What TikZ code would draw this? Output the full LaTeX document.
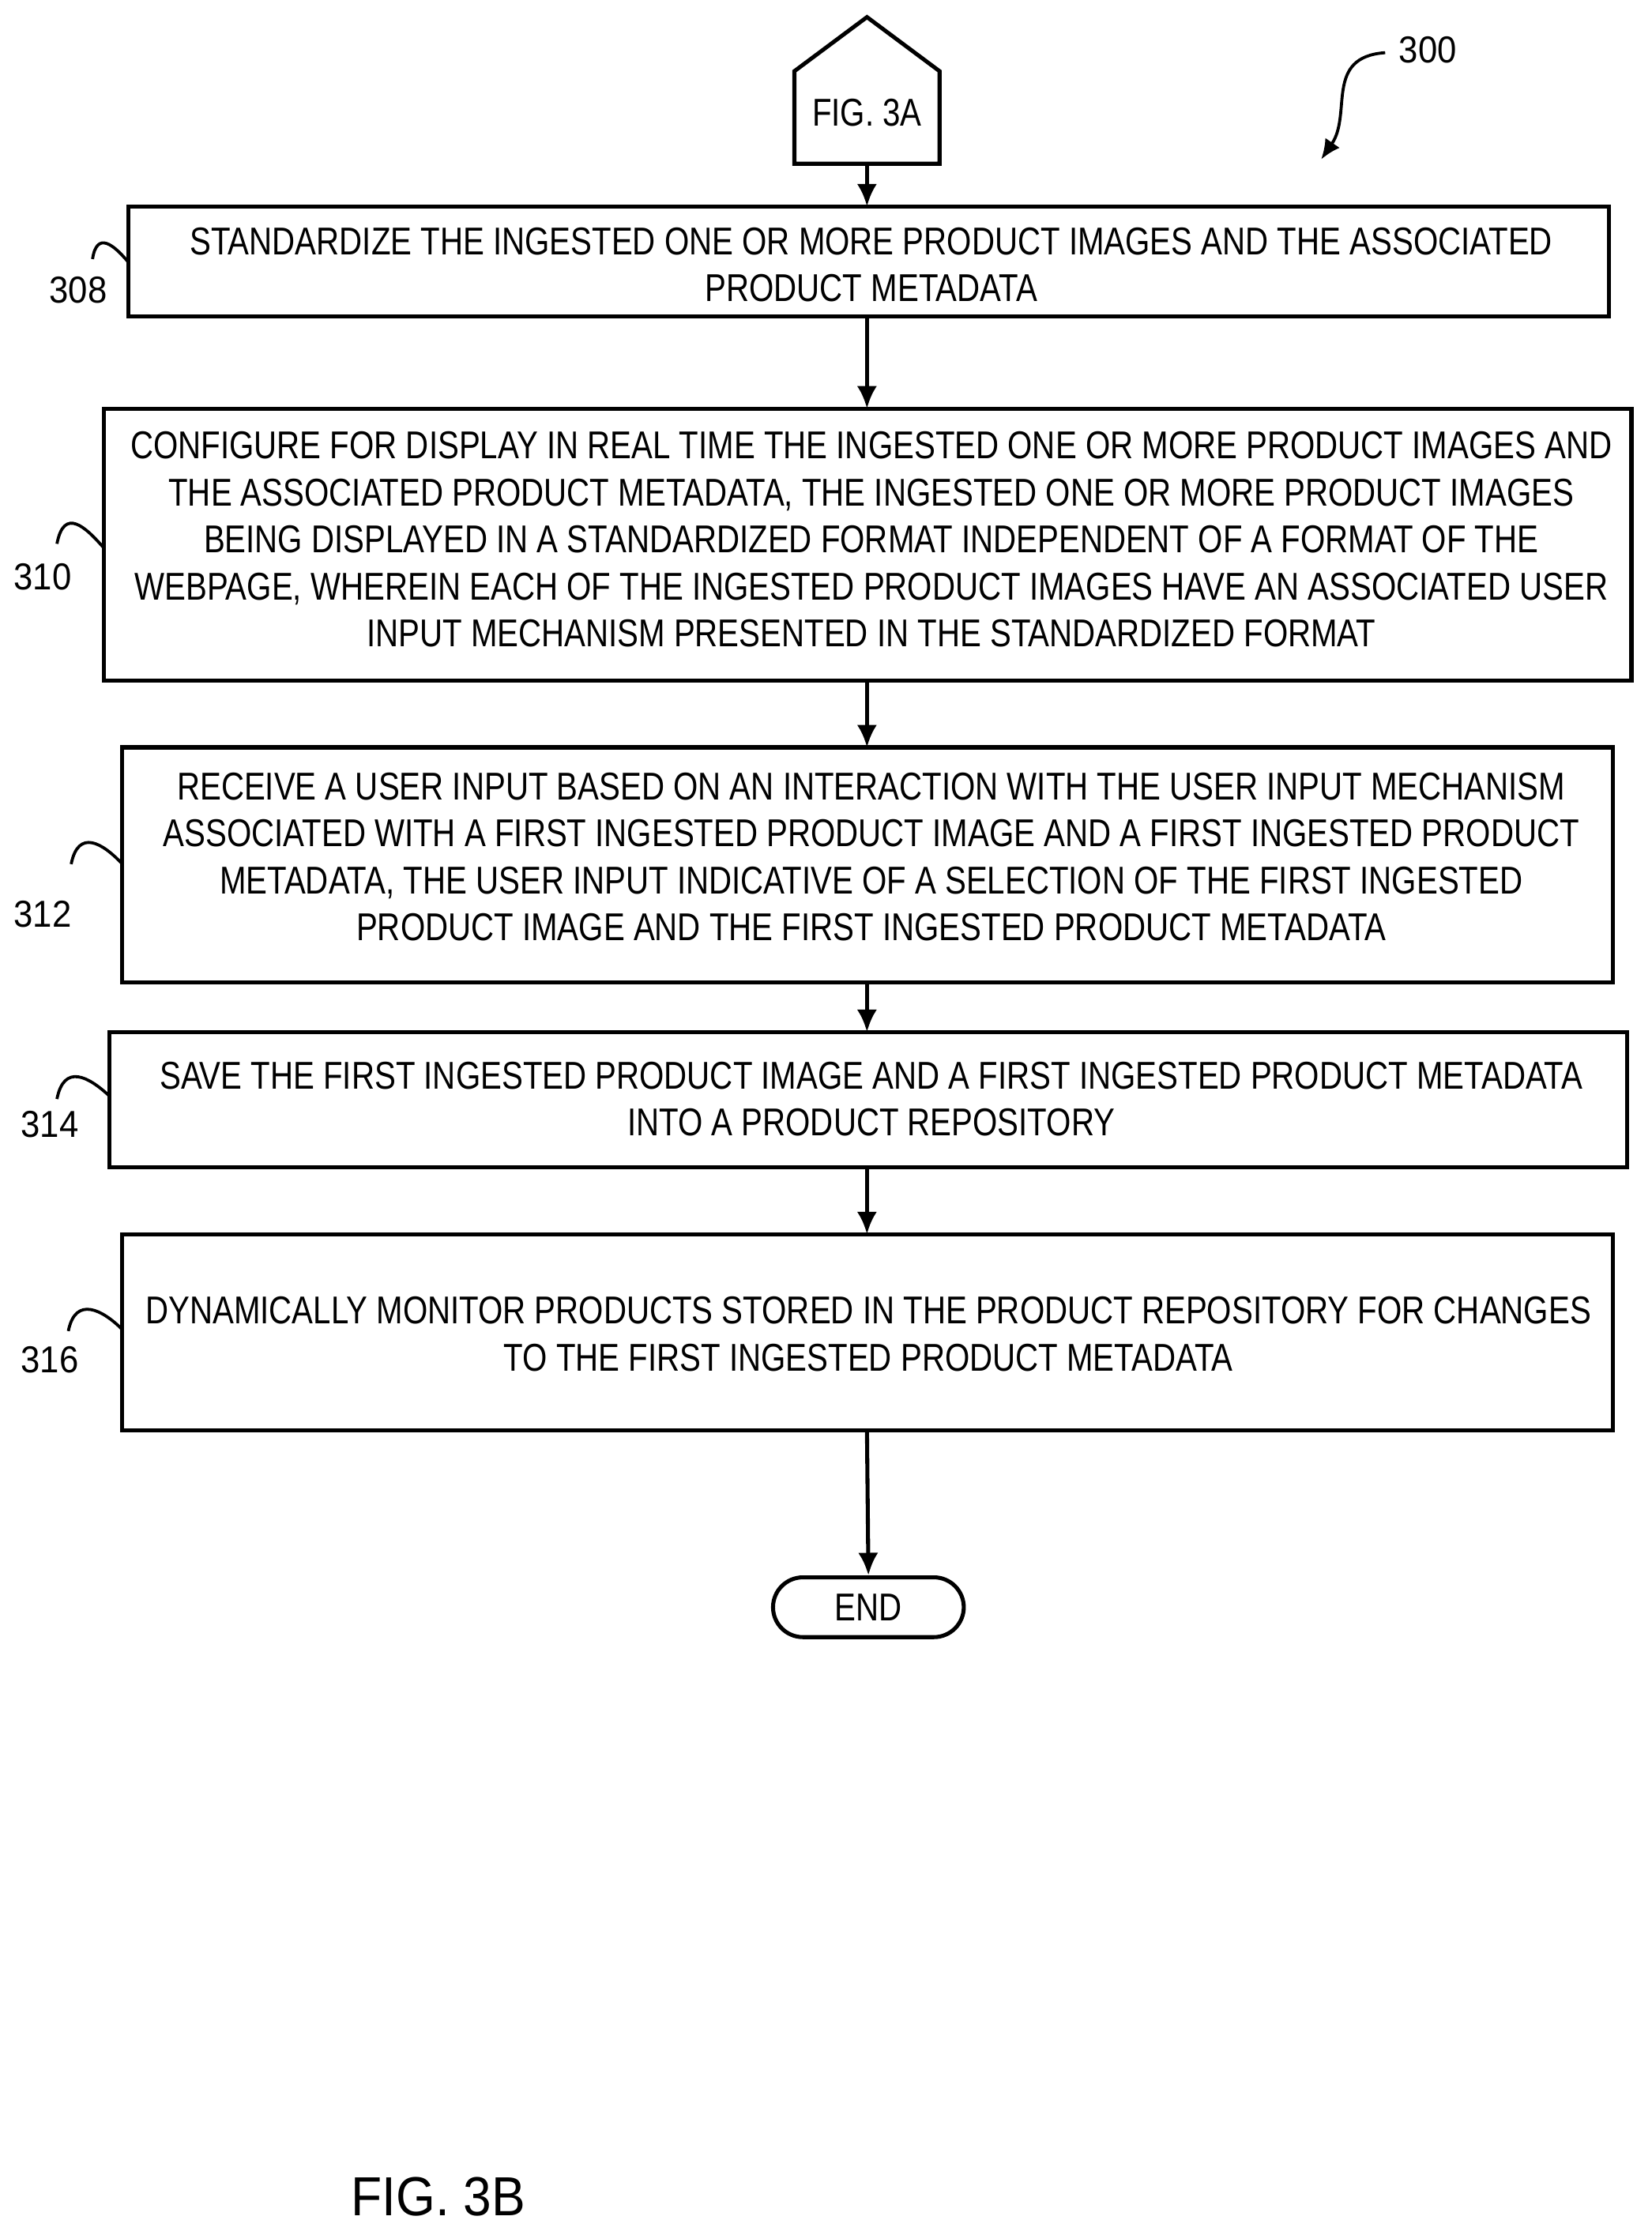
\documentclass[tikz,border=0pt]{standalone}
\usepackage{fontspec}
\setmainfont{Liberation Sans}[FakeStretch=0.82]
\newfontfamily\wide{Liberation Sans}[FakeStretch=0.92]
\usetikzlibrary{arrows.meta}
\begin{document}
\begin{tikzpicture}[x=0.02cm,y=-0.02cm,
 box/.style={draw,line width=1.6pt},
 txt/.style={font=\fontsize{15.5}{18.8}\selectfont,align=center,inner sep=0pt},
 arr/.style={line width=1.6pt,-{Latex[length=9pt,width=8pt]}},
 lab/.style={font=\wide\fontsize{15}{18}\selectfont,inner sep=0pt},
 sq/.style={line width=1.2pt}]
\useasboundingbox (0,0) rectangle (1160,1570);
% pentagon
\draw[line width=1.6pt] (558,115) -- (558,50) -- (609,12) -- (660,50) -- (660,115) -- cycle;
\node[txt] (p) at (609,79) {FIG. 3A};
\coordinate (pb) at (609,115);
% boxes
\draw[box] (90,145) rectangle (1130,222); \coordinate (b1t) at (609,145); \coordinate (b1b) at (609,222);
\node[txt] (t1) at (612,186) {STANDARDIZE THE INGESTED ONE OR MORE PRODUCT IMAGES AND THE ASSOCIATED\\PRODUCT METADATA};
\draw[box] (73,287) rectangle (1146,478); \coordinate (b2t) at (609,287); \coordinate (b2b) at (609,478);
\node[txt] (t2) at (612,379) {CONFIGURE FOR DISPLAY IN REAL TIME THE INGESTED ONE OR MORE PRODUCT IMAGES AND\\THE ASSOCIATED PRODUCT METADATA, THE INGESTED ONE OR MORE PRODUCT IMAGES\\BEING DISPLAYED IN A STANDARDIZED FORMAT INDEPENDENT OF A FORMAT OF THE\\WEBPAGE, WHEREIN EACH OF THE INGESTED PRODUCT IMAGES HAVE AN ASSOCIATED USER\\INPUT MECHANISM PRESENTED IN THE STANDARDIZED FORMAT};
\draw[box] (86,525) rectangle (1133,690); \coordinate (b3t) at (609,525); \coordinate (b3b) at (609,690);
\node[txt] (t3) at (612,602) {RECEIVE A USER INPUT BASED ON AN INTERACTION WITH THE USER INPUT MECHANISM\\ASSOCIATED WITH A FIRST INGESTED PRODUCT IMAGE AND A FIRST INGESTED PRODUCT\\METADATA, THE USER INPUT INDICATIVE OF A SELECTION OF THE FIRST INGESTED\\PRODUCT IMAGE AND THE FIRST INGESTED PRODUCT METADATA};
\draw[box] (77,725) rectangle (1143,820); \coordinate (b4t) at (609,725); \coordinate (b4b) at (609,820);
\node[txt] (t4) at (612,772) {SAVE THE FIRST INGESTED PRODUCT IMAGE AND A FIRST INGESTED PRODUCT METADATA\\INTO A PRODUCT REPOSITORY};
\draw[box] (86,867) rectangle (1133,1005); \coordinate (b5t) at (609,867); \coordinate (b5b) at (609,1005);
\node[txt] (t5) at (610,937) {DYNAMICALLY MONITOR PRODUCTS STORED IN THE PRODUCT REPOSITORY FOR CHANGES\\TO THE FIRST INGESTED PRODUCT METADATA};
\node[draw,line width=1.6pt,rounded corners=21*0.02cm,minimum width=134*0.02cm,minimum height=42*0.02cm,txt] (end) at (610,1129) {END};
% arrows
\draw[arr] (pb) -- (b1t);
\draw[arr] (b1b) -- (b2t);
\draw[arr] (b2b) -- (b3t);
\draw[arr] (b3b) -- (b4t);
\draw[arr] (b4b) -- (b5t);
\draw[arr] (b5b) -- (end.north);
% labels
\node[lab] (l308) at (55,204) {308};
\draw[sq] (65,182) .. controls (68,162) and (80,172) .. (90,184);
\node[lab] (l310) at (30,405) {310};
\draw[sq] (40,382) .. controls (45,356) and (60,370) .. (73,385);
\node[lab] (l312) at (30,642) {312};
\draw[sq] (50,607) .. controls (55,582) and (72,592) .. (86,607);
\node[lab] (l314) at (35,790) {314};
\draw[sq] (40,772) .. controls (45,747) and (62,756) .. (77,770);
\node[lab] (l316) at (35,955) {316};
\draw[sq] (48,935) .. controls (53,910) and (72,920) .. (86,934);
\node[lab] (l300) at (1003,35) {300};
\draw[line width=1.2pt,-{Latex[length=8pt,width=7pt]}] (973,37) .. controls (930,40) and (950,80) .. (928,112);
\node[font=\wide\fontsize{22}{24}\selectfont,inner sep=0pt] (f3b) at (308,1543) {FIG. 3B};
\end{tikzpicture}
\end{document}
